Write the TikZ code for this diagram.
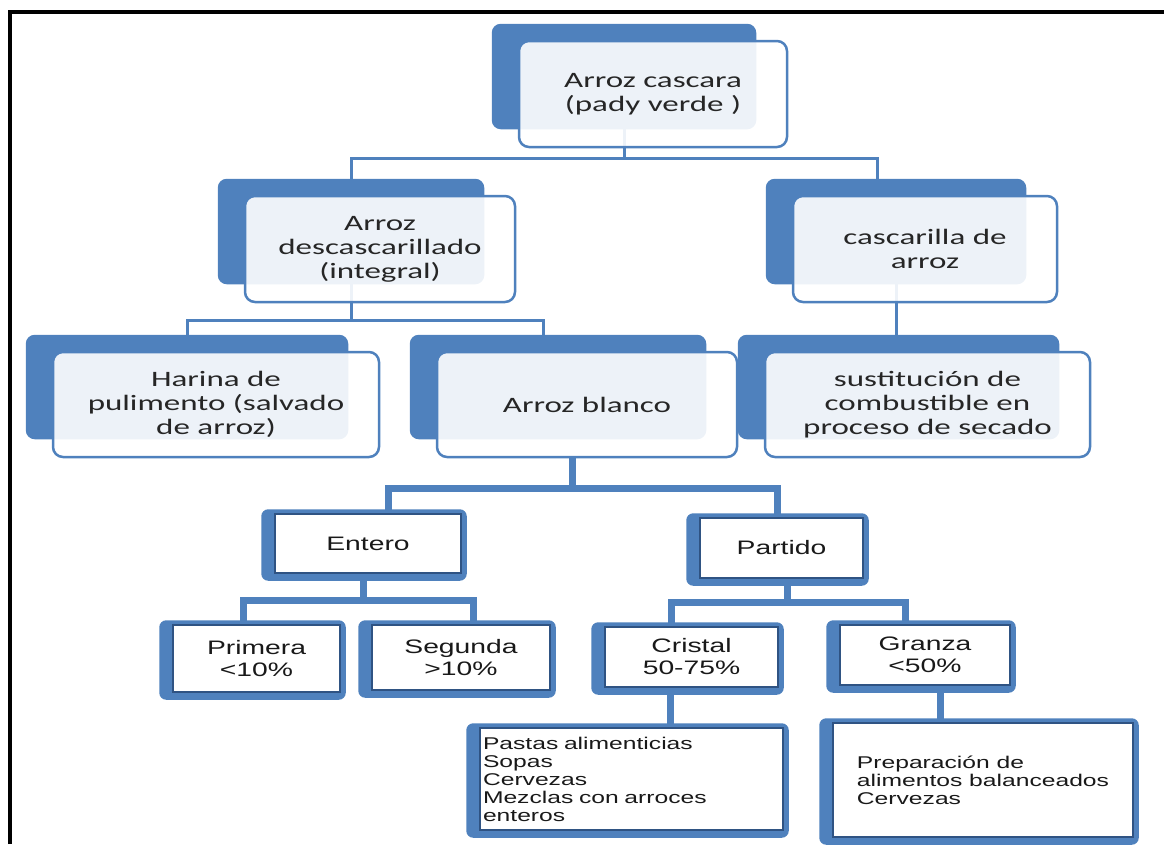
\documentclass[tikz,border=0pt]{standalone}
\usepackage{fontspec}
\newfontfamily\boxfont[FakeStretch=1.5]{Carlito}
\newfontfamily\listfont[FakeStretch=1.45]{Liberation Sans}
\usetikzlibrary{positioning, fit}
\definecolor{smartblue}{HTML}{4F81BD}
\definecolor{boxline}{HTML}{2F5383}
\definecolor{ink}{HTML}{262626}
\pgfdeclarelayer{back}
\pgfdeclarelayer{wires}
\pgfsetlayers{back,wires,main}

\begin{document}
\begin{tikzpicture}[x=1pt, y=-1pt,
    front/.style={draw=smartblue, line width=2.5pt, fill=white, fill opacity=0.9, text opacity=1,
      rounded corners=10pt, align=center, text=ink, inner sep=0pt,
      font=\boxfont\fontsize{22}{24}\selectfont},
    backing/.style={fill=smartblue, rounded corners=9pt, inner sep=0pt},
    link/.style={draw=smartblue, line width=3pt},
    card/.style={draw=boxline, line width=1.5pt, fill=white, align=center, text=black!90, inner sep=0pt,
      font=\listfont\fontsize{19.5}{22}\selectfont},
    bar/.style={draw=smartblue, line width=7pt}]
                \useasboundingbox (0,0) rectangle (1164,844);
                \draw[line width=4pt] (9.5,844) -- (9.5,11.5) -- (1164,11.5);

                % upper boxes
                \node[front, minimum width=268pt, minimum height=106pt] (top) at (653,94) {Arroz cascara\\(pady verde )};
                \node[front, minimum width=270pt, minimum height=106pt] (desc) at (380,249) {Arroz\\descascarillado\\(integral)};
                \node[front, minimum width=264pt, minimum height=106pt] (casc) at (925,249) {cascarilla de\\arroz};
                \node[front, minimum width=326pt, minimum height=105pt] (harina) at (216,404.5) {Harina de\\pulimento (salvado\\de arroz)};
                \node[front, minimum width=300pt, minimum height=105pt] (blanco) at (587,404.5) {Arroz blanco};
                \node[front, minimum width=325pt, minimum height=105pt] (sust) at (927.5,404.5) {sustitución de\\combustible en\\proceso de secado};

                % lower boxes
                \node[card, minimum width=186pt, minimum height=59pt] (entero) at (368,543.5) {Entero};
                \node[card, minimum width=163pt, minimum height=60pt] (partido) at (781.5,548) {Partido};
                \node[card, minimum width=167pt, minimum height=67pt] (primera) at (256.5,658.5) {Primera\\<10\%};
                \node[card, minimum width=178pt, minimum height=65pt] (segunda) at (461,657.5) {Segunda\\>10\%};
                \node[card, minimum width=173pt, minimum height=60pt] (cristal) at (691.5,657) {Cristal\\50-75\%};
                \node[card, minimum width=170pt, minimum height=60pt] (granza) at (925,655) {Granza\\<50\%};
                \node[card, text width=297pt, inner xsep=3pt, align=left, minimum height=102pt,
                  font=\listfont\fontsize{17}{18}\selectfont] (pastas) at (631.5,779)
                  {Pastas alimenticias\\Sopas\\Cervezas\\Mezclas con arroces\\enteros};
                \node[card, align=left, minimum width=300pt, minimum height=114pt,
                  font=\listfont\fontsize{17}{18}\selectfont] (prep) at (983,780)
                  {Preparación de\\alimentos balanceados\\Cervezas};

                \begin{pgfonlayer}{back}
                \foreach \b in {top,desc,casc,harina,blanco,sust}
                  \node[backing, fit={([xshift=-26pt,yshift=16pt]\b.north west) ([xshift=-32pt,yshift=19pt]\b.south east)}] (\b-bk) {};
                \foreach \b in {entero,partido,primera,segunda,cristal,granza,pastas,prep}
                  \fill[smartblue, rounded corners=7pt] ([xshift=-13pt,yshift=4pt]\b.north west) rectangle ([xshift=5pt,yshift=-7pt]\b.south east);
                \end{pgfonlayer}

                \begin{pgfonlayer}{wires}
                \draw[link] (top-bk.south) -- ++(0,29) -| (desc-bk.north);
                \draw[link] (top-bk.south) -- ++(0,29) -| ([xshift=-19pt]casc-bk.north);
                \draw[link] (desc-bk.south) -- ++(0,36) -| (harina-bk.north);
                \draw[link] (desc-bk.south) -- ++(0,36) -| ([xshift=-15pt]blanco-bk.north);
                \draw[link] (casc-bk.south) -- (casc-bk.south |- sust-bk.north);
                \draw[bar] ([xshift=-15pt]blanco.south) -- ++(0,30) -| ([xshift=20pt]entero.north);
                \draw[bar] ([xshift=-15pt]blanco.south) -- ++(0,30) -| ([xshift=-4pt]partido.north);
                \draw[bar] ([xshift=-5pt]entero.south) -- ++(0,27) -| ([xshift=-13pt]primera.north);
                \draw[bar] ([xshift=-5pt]entero.south) -- ++(0,27) -| ([xshift=12pt]segunda.north);
                \draw[bar] ([xshift=6pt]partido.south) -- ++(0,24) -| ([xshift=-20pt]cristal.north);
                \draw[bar] ([xshift=6pt]partido.south) -- ++(0,24) -| ([xshift=-20pt]granza.north);
                \draw[bar] ([xshift=-21pt]cristal.south) -- ([xshift=-21pt]cristal.south |- pastas.north);
                \draw[bar] ([xshift=15pt]granza.south) -- ([xshift=15pt]granza.south |- prep.north);
                \end{pgfonlayer}
            \end{tikzpicture}
\end{document}
